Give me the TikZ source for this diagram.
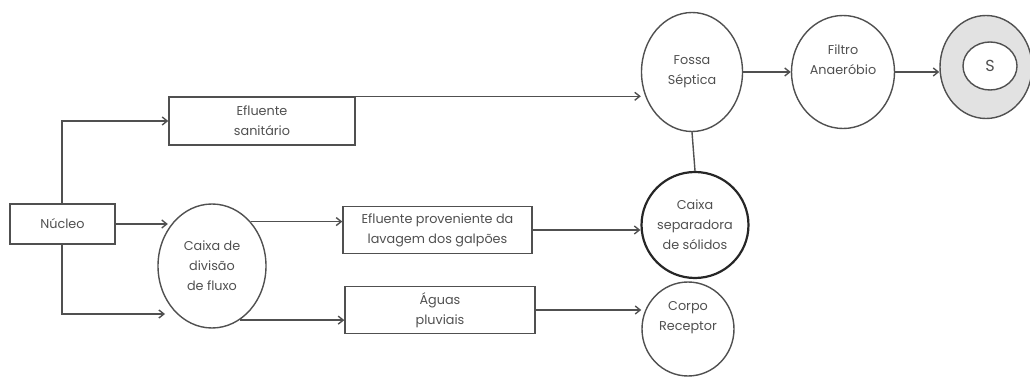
\documentclass[tikz,border=0pt]{standalone}
\usepackage{fontspec}
\setmainfont{Poppins}
\usetikzlibrary{shapes.geometric,arrows.meta}
\definecolor{ln}{RGB}{80,80,80}
\definecolor{tx}{RGB}{80,80,80}
\definecolor{ring}{RGB}{226,226,226}
\begin{document}
\begin{tikzpicture}[x=1pt,y=-1pt,
  every node/.style={font=\fontsize{12.8}{20}\selectfont, text=tx, align=center, inner sep=0pt},
  box/.style={draw=ln, line width=1.4pt, rectangle},
  oval/.style={draw=ln, line width=1.4pt, ellipse},
  conn/.style={draw=ln, line width=1.4pt},
  arr/.style={conn, -{Straight Barb[length=5pt,width=8pt]}}]
\useasboundingbox (0,0) rectangle (1030,379);
% nodes
\node[box, minimum width=105pt, minimum height=40pt] (nucleo) at (62.5,224) {Núcleo};
\node[box, minimum width=186pt, minimum height=48pt] (efs) at (262,121) {Efluente\\sanitário};
\node[oval, minimum width=108pt, minimum height=124pt] (cdiv) at (212,266) {Caixa de\\divisão\\de fluxo};
\node[box, minimum width=189pt, minimum height=47pt] (efp) at (437.5,230) {Efluente proveniente da\\lavagem dos galpões};
\node[box, minimum width=190pt, minimum height=47pt] (agp) at (440,310) {Águas\\pluviais};
\node[oval, minimum width=101pt, minimum height=119pt] (fossa) at (692,72) {Fossa\\Séptica};
\node[oval, minimum width=103pt, minimum height=113pt] (filtro) at (843,72) {Filtro\\Anaeróbio\\[4pt]};
\node[oval, fill=ring, minimum width=92pt, minimum height=103pt] (saida) at (986,67) {};
\node[oval, fill=white, minimum width=54pt, minimum height=48pt, font=\fontsize{16}{20}\selectfont] (sin) at (990,66) {S};
\node[oval, line width=2.2pt, draw=black!85, minimum width=104pt, minimum height=106pt] (csep) at (695,225) {Caixa\\separadora\\de sólidos};
\node[oval, minimum width=92pt, minimum height=94pt] (corpo) at (688,329) {Corpo\\Receptor\\[6pt]};
\coordinate (vx) at (62,0);
\coordinate (cdivin) at (165,314);
% connectors
\draw[arr] (nucleo.north -| vx) |- (efs.west);
\draw[arr] (nucleo.south -| vx) |- (cdivin);
\draw[arr] (nucleo.east) -- (nucleo.east -| cdiv.140);
\draw[arr] (efs.north east) -- (efs.north east -| fossa.west);
\draw[arr] (fossa.east) -- (filtro.west);
\draw[arr] (filtro.east) -- (filtro.east -| saida.west);
\draw[conn] (fossa.south) -- (csep.north);
\draw[arr] (cdiv.49) -- (cdiv.49 -| efp.west);
\draw[arr] (efp.east) -- (efp.east -| csep.west);
\draw[arr] (cdiv.-63) -- (cdiv.-63 -| agp.west);
\draw[arr] (agp.east) -- (agp.east -| corpo.west);
\end{tikzpicture}
\end{document}
